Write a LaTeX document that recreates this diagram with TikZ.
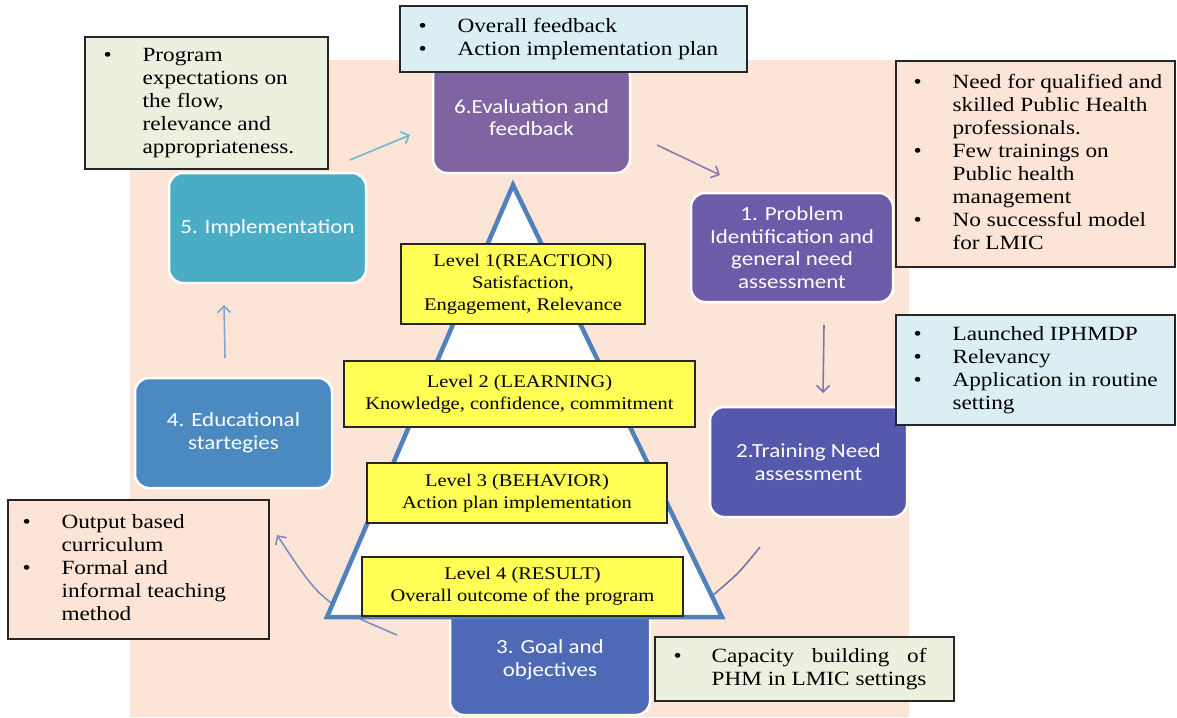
\documentclass[tikz,border=0pt]{standalone}
\usepackage{fontspec}
\usepackage{calc}
\usetikzlibrary{arrows.meta}
\newfontfamily\tnr[FakeStretch=1.15]{Liberation Serif}
\newfontfamily\clb[FakeStretch=1.15]{Carlito}
\definecolor{bgpeach}{HTML}{FCE5D6}
\definecolor{boxpeach}{HTML}{FCE4D6}
\definecolor{boxblue}{HTML}{DAEEF3}
\definecolor{boxgreen}{HTML}{EBF1DE}
\definecolor{lvlyellow}{HTML}{FFFF55}
\definecolor{cSix}{HTML}{8064A2}
\definecolor{cFive}{HTML}{4BACC6}
\definecolor{cFour}{HTML}{4A8AC1}
\definecolor{cThree}{HTML}{4E6AB6}
\definecolor{cTwo}{HTML}{5658AB}
\definecolor{cOne}{HTML}{6D5AA8}
\definecolor{triblue}{HTML}{4F81BD}
\definecolor{aTeal}{HTML}{6DBBCB}
\definecolor{aPurple}{HTML}{8B7BB0}
\definecolor{aViolet}{HTML}{7F72B5}
\definecolor{aGrey}{HTML}{7E73A8}
\definecolor{aBlue}{HTML}{7F8DC7}
\definecolor{aSky}{HTML}{7EA7CF}
\tikzset{
  stage/.style={rounded corners=14pt, draw=white, line width=2.5pt, text=white,
    align=center, inner sep=0pt, font=\clb\fontsize{20}{22.7}\selectfont},
  note/.style={draw=black!85, line width=1.2pt, inner sep=0pt},
  notetext/.style={anchor=west, inner sep=0pt, font=\tnr\fontsize{20.2}{23}\selectfont},
  level/.style={draw=black!85, line width=1.2pt, fill=lvlyellow, align=center,
    inner sep=0pt, font=\tnr\fontsize{17.8}{22}\selectfont},
  flow/.style={line width=1.6pt, -{Straight Barb[length=6.5pt,width=13pt]}},
  flowline/.style={line width=1.6pt}
}
\begin{document}
\begin{tikzpicture}[x=1pt,y=-1pt]
\useasboundingbox (0,0) rectangle (1177,717);
\fill[white] (0,0) rectangle (1177,717);
\fill[bgpeach] (130,60) rectangle (909,717);

% stage boxes
\node[stage, fill=cSix, minimum width=197pt, minimum height=111pt] (b6) at (531.5,117.5) {6.Evaluation and\\feedback};
\node[stage, fill=cFive, minimum width=197pt, minimum height=110pt] (b5) at (267.5,228) {5. Implementation};
\node[stage, fill=cFour, minimum width=197pt, minimum height=110pt] (b4) at (233.5,433) {4. Educational\\startegies};
\node[stage, fill=cThree, minimum width=200pt, minimum height=111pt] (b3) at (550,659.5) {3. Goal and\\objectives};
\node[stage, fill=cTwo, minimum width=197pt, minimum height=110pt] (b2) at (808.5,462) {2.Training Need\\assessment};
\node[stage, fill=cOne, minimum width=202pt, minimum height=109pt] (b1) at (792,247.5) {1. Problem\\Identification and\\general need\\assessment};

% connectors
\coordinate (a56s) at (350,160); \coordinate (a56e) at (410,135);
\coordinate (a61s) at (657,145); \coordinate (a61e) at (720,175);
\coordinate (a12s) at (824,325); \coordinate (a12e) at (823,393);
\coordinate (a23s) at (760,547); \coordinate (a23e) at (712,596);
\coordinate (a34s) at (397,635); \coordinate (a34e) at (277,535);
\coordinate (a45s) at (225,358); \coordinate (a45e) at (224,305);
\draw[flow, aTeal] (a56s) -- (a56e);
\draw[flow, aPurple] (a61s) -- (a61e);
\draw[flow, aViolet] (a12s) -- (a12e);
\draw[flowline, aGrey] (a23s) .. controls (739,573) .. (a23e);
\draw[flow, aBlue] (a34s) .. controls (322,603) .. (a34e);
\draw[flow, aSky] (a45s) -- (a45e);

% pyramid
\coordinate (apex) at (513,185);
\coordinate (bl) at (327,617);
\coordinate (br) at (722,617);
\draw[triblue, line width=4.5pt, fill=white, line join=miter] (apex) -- (bl) -- (br) -- cycle;

% levels
\node[level, minimum width=244pt, minimum height=80pt] (l1) at (523,284) {Level 1(REACTION)\\Satisfaction,\\Engagement, Relevance};
\node[level, minimum width=351pt, minimum height=66pt] (l2) at (519.5,394) {Level 2 (LEARNING)\\Knowledge, confidence, commitment};
\node[level, minimum width=300pt, minimum height=60pt] (l3) at (517,493) {Level 3 (BEHAVIOR)\\Action plan implementation};
\node[level, minimum width=321pt, minimum height=59pt] (l4) at (522.5,586.5) {Level 4 (RESULT)\\Overall outcome of the program};

% note boxes
\node[note, fill=boxblue, minimum width=347pt, minimum height=66pt] (tb) at (573.5,39) {};
\node[notetext] (tbt) at ([xshift=19pt]tb.west) {\begin{tabular}{@{}p{39pt}@{}l@{}}
\textbullet & Overall feedback\\
\textbullet & Action implementation plan
\end{tabular}};

\node[note, fill=boxgreen, minimum width=243pt, minimum height=132pt] (gb) at (206.5,103) {};
\node[notetext] (gbt) at ([xshift=19pt]gb.west) {\begin{tabular}{@{}p{39pt}@{}l@{}}
\textbullet & Program\\
 & expectations on\\
 & the flow,\\
 & relevance and\\
 & appropriateness.
\end{tabular}};

\node[note, fill=boxpeach, minimum width=279pt, minimum height=206pt] (rp) at (1035.5,164) {};
\node[notetext] (rpt) at ([xshift=18pt]rp.west) {\begin{tabular}{@{}p{39pt}@{}l@{}}
\textbullet & Need for qualified and\\
 & skilled Public Health\\
 & professionals.\\
\textbullet & Few trainings on\\
 & Public health\\
 & management\\
\textbullet & No successful model\\
 & for LMIC
\end{tabular}};

\node[note, fill=boxblue, minimum width=279pt, minimum height=110pt] (rb) at (1035.5,370) {};
\node[notetext] (rbt) at ([xshift=18pt]rb.west) {\begin{tabular}{@{}p{39pt}@{}l@{}}
\textbullet & Launched IPHMDP\\
\textbullet & Relevancy\\
\textbullet & Application in routine\\
 & setting
\end{tabular}};

\node[note, fill=boxpeach, minimum width=261pt, minimum height=139pt] (lp) at (138.5,569.5) {};
\node[notetext] (lpt) at ([xshift=15pt]lp.west) {\begin{tabular}{@{}p{39pt}@{}l@{}}
\textbullet & Output based\\
 & curriculum\\
\textbullet & Formal and\\
 & informal teaching\\
 & method
\end{tabular}};

\node[note, fill=boxgreen, minimum width=299pt, minimum height=64pt] (bg) at (804.5,669) {};
\node[notetext] (bgt) at ([xshift=19pt]bg.west) {\begin{tabular}{@{}p{38pt}@{}l@{}}
\textbullet & \makebox[\widthof{PHM in LMIC settings}][s]{Capacity building of}\\
 & PHM in LMIC settings
\end{tabular}};
\end{tikzpicture}
\end{document}
